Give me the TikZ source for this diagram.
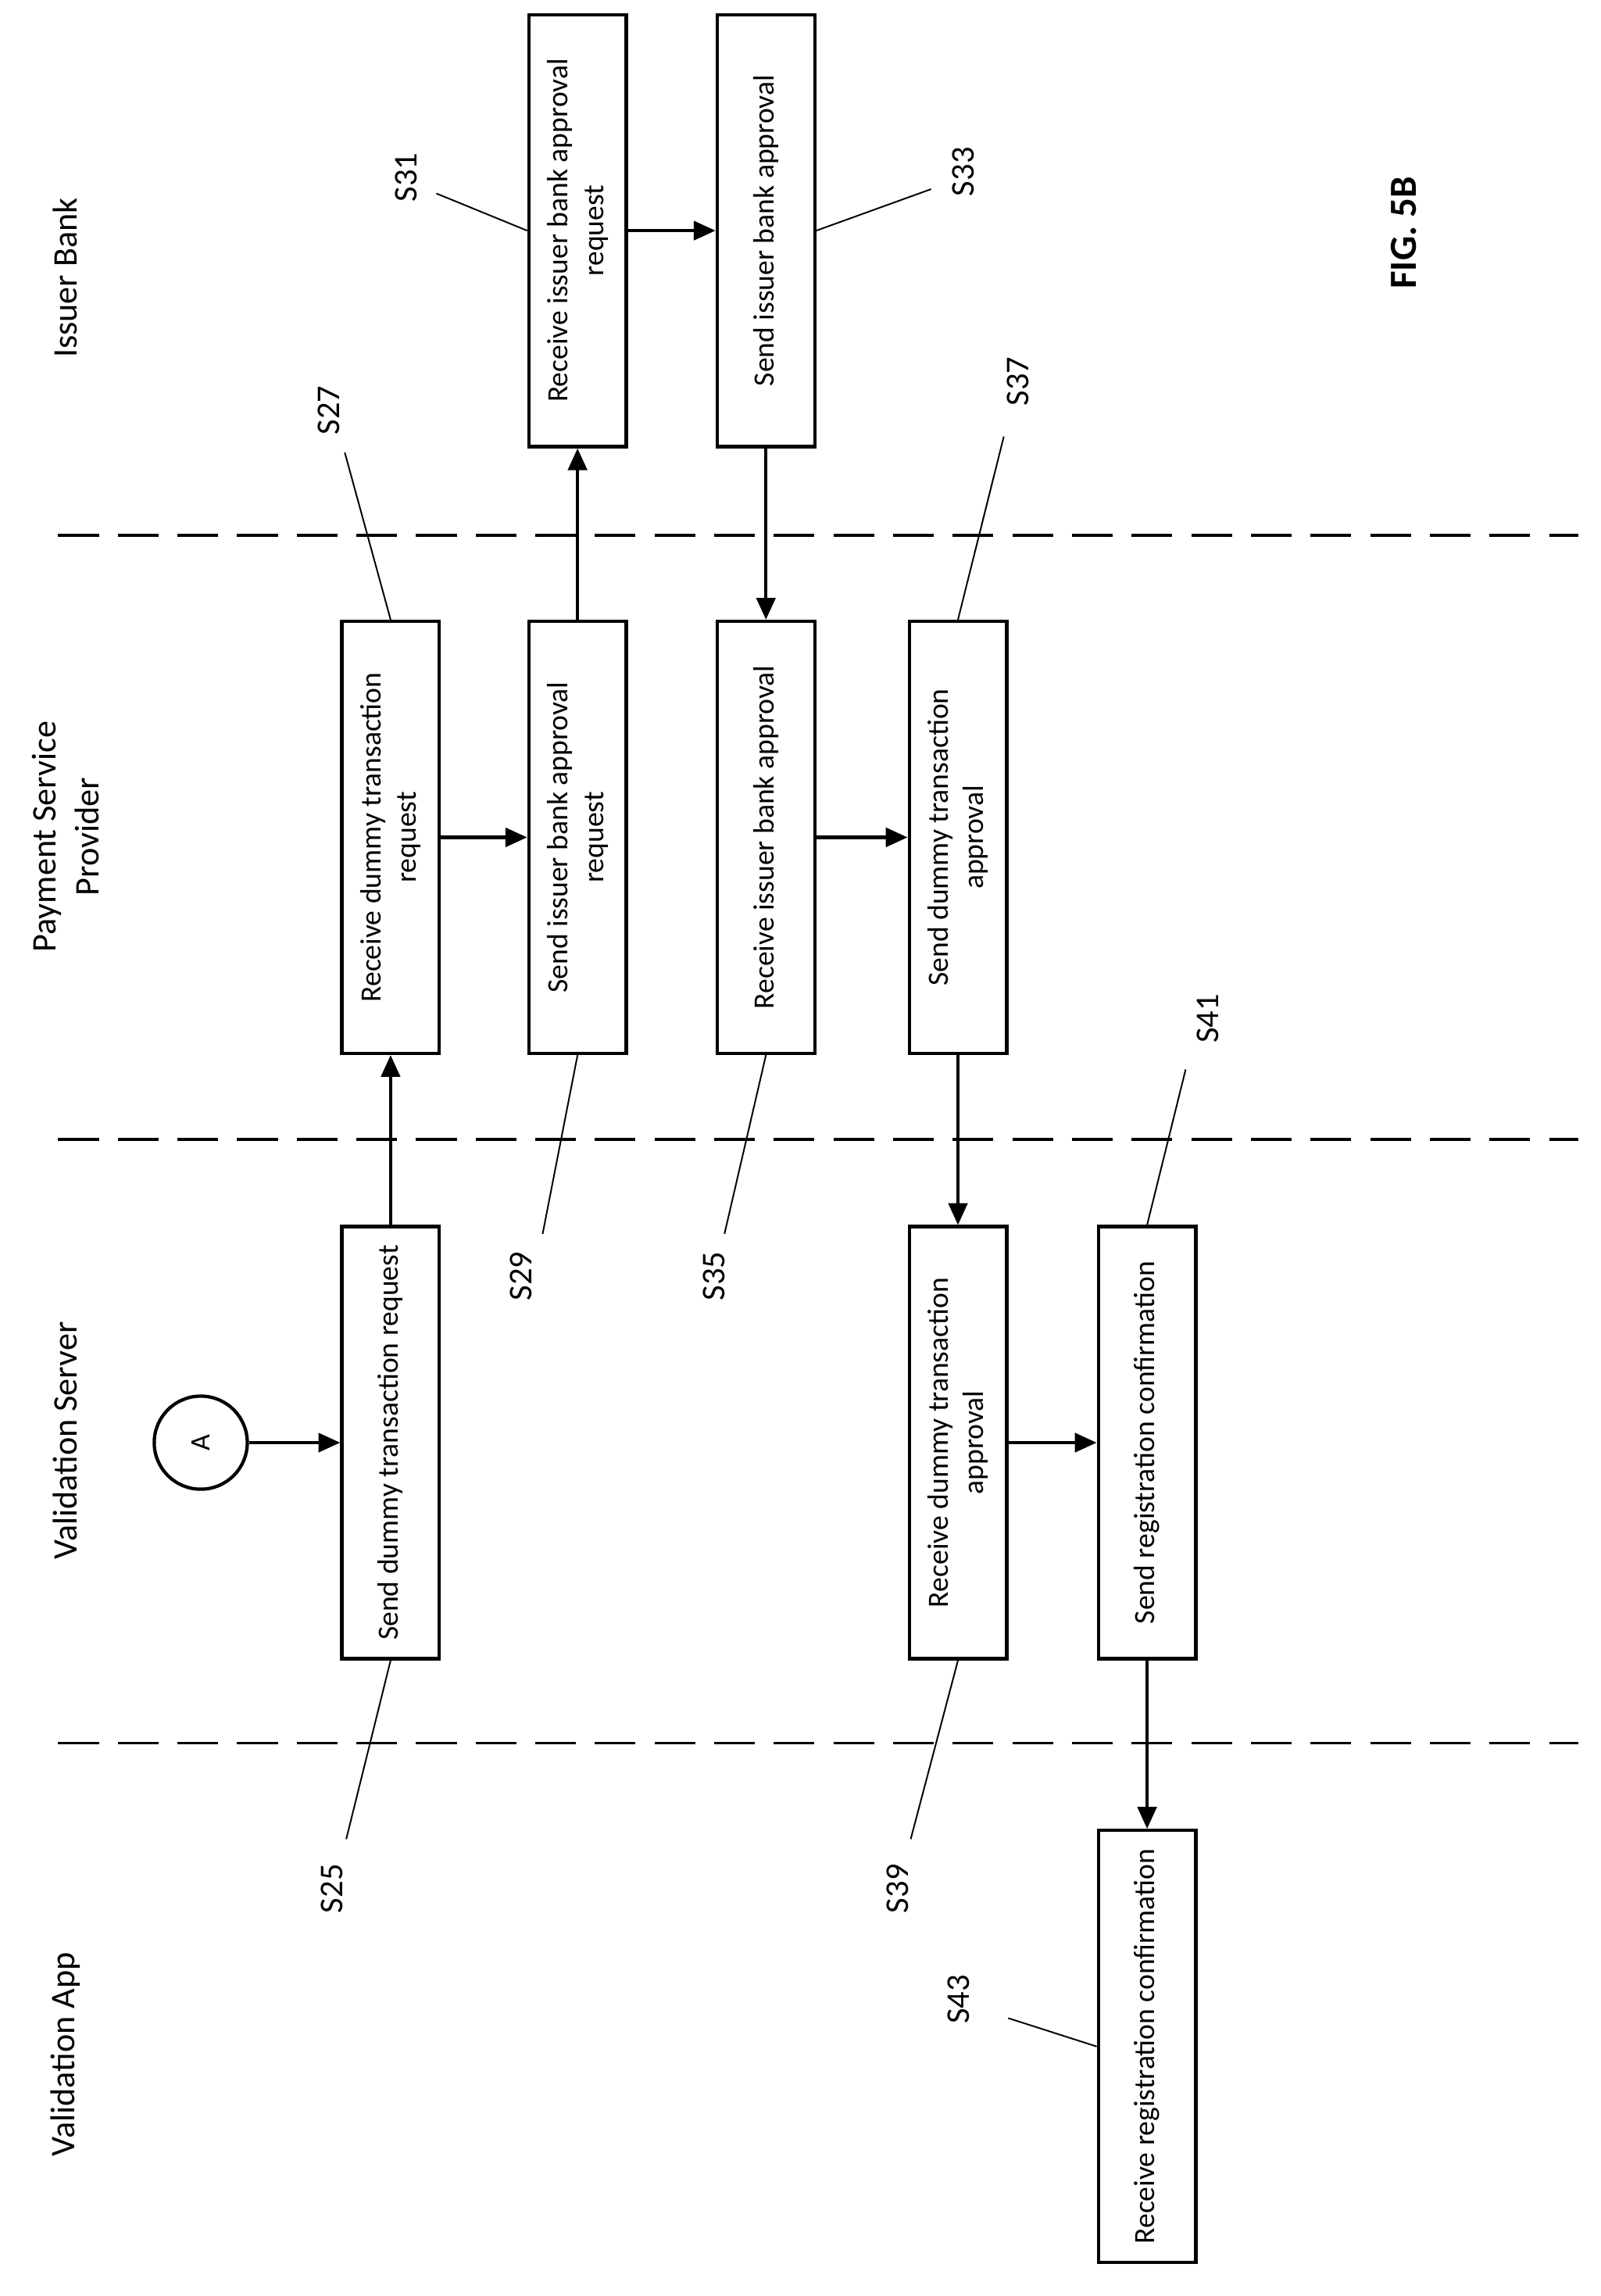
\documentclass[tikz,border=0pt]{standalone}
\usepackage{fontspec}
\setmainfont{Carlito}
\usetikzlibrary{arrows.meta}
\begin{document}
\begin{tikzpicture}[x=0.02cm,y=-0.02cm]
        % Define styles
        \tikzset{
            action/.style={rectangle, draw, line width=1.3pt, rotate=90, minimum width=5.94cm, minimum height=1.34cm, align=center, inner sep=0pt, font=\fontsize{11.5}{14}\selectfont},
            lane/.style={rotate=90, align=center, font=\fontsize{13.5}{17}\selectfont},
            ref/.style={rotate=90, font=\fontsize{13}{15}\selectfont},
            lead/.style={line width=0.6pt},
            arrow/.style={-{Triangle[length=0.3cm,width=0.26cm]}, line width=1.3pt},
            sep/.style={line width=1.2pt, dash pattern=on 0.56cm off 0.26cm}
        }
        \useasboundingbox (0,0) rectangle (1100,1578);

        % Lanes
        \node[lane] (lane_bank) at (45,191) {Issuer Bank};
        \node[lane] (lane_psp) at (45,575) {Payment Service\\Provider};
        \node[lane] (lane_server) at (45,990) {Validation Server};
        \node[lane] (lane_app) at (45,1412) {Validation App};
        \coordinate (sep_1a) at (40,368);  \coordinate (sep_1b) at (1085,368);
        \coordinate (sep_2a) at (40,783);  \coordinate (sep_2b) at (1085,783);
        \coordinate (sep_3a) at (40,1198); \coordinate (sep_3b) at (1085,1198);
        \draw[sep] (sep_1a) -- (sep_1b);
        \draw[sep] (sep_2a) -- (sep_2b);
        \draw[sep] (sep_3a) -- (sep_3b);

        % Steps
        \node[circle, draw, line width=1.3pt, minimum size=1.28cm, rotate=90, font=\fontsize{11}{13}\selectfont] (conn_a) at (138,991.5) {A};
        \node[action] (step_25) at (268.5,991.5) {Send dummy transaction request};
        \node[action] (step_27) at (268.5,575.5) {Receive dummy transaction\\request};
        \node[action] (step_29) at (397,575.5) {Send issuer bank approval\\request};
        \node[action] (step_31) at (397,158.5) {Receive issuer bank approval\\request};
        \node[action] (step_33) at (526.5,158.5) {Send issuer bank approval};
        \node[action] (step_35) at (526.5,575.5) {Receive issuer bank approval};
        \node[action] (step_37) at (658.5,575.5) {Send dummy transaction\\approval};
        \node[action] (step_39) at (658.5,991.5) {Receive dummy transaction\\approval};
        \node[action] (step_41) at (788.5,991.5) {Send registration confirmation};
        \node[action] (step_43) at (788.5,1406.5) {Receive registration confirmation};

        % Arrows
        \draw[arrow] (conn_a) -- (step_25.north);
        \draw[arrow] (step_25.east) -- (step_27.west);
        \draw[arrow] (step_27.south) -- (step_29.north);
        \draw[arrow] (step_29.east) -- (step_31.west);
        \draw[arrow] (step_31.south) -- (step_33.north);
        \draw[arrow] (step_33.west) -- (step_35.east);
        \draw[arrow] (step_35.south) -- (step_37.north);
        \draw[arrow] (step_37.west) -- (step_39.east);
        \draw[arrow] (step_39.south) -- (step_41.north);
        \draw[arrow] (step_41.west) -- (step_43.east);

        % Reference labels
        \node[ref] (ref_25) at (228,1298) {S25};
        \node[ref] (ref_27) at (226,282) {S27};
        \node[ref] (ref_29) at (358,877) {S29};
        \node[ref] (ref_31) at (279,122) {S31};
        \node[ref] (ref_33) at (662,118) {S33};
        \node[ref] (ref_35) at (491,877) {S35};
        \node[ref] (ref_37) at (700,262) {S37};
        \node[ref] (ref_39) at (617,1298) {S39};
        \node[ref] (ref_41) at (830,700) {S41};
        \node[ref] (ref_43) at (659,1374) {S43};
        \coordinate (tip_25) at (238,1264);
        \coordinate (tip_27) at (237,311);
        \coordinate (tip_29) at (373,848);
        \coordinate (tip_31) at (300,133);
        \coordinate (tip_33) at (640,130);
        \coordinate (tip_35) at (498,848);
        \coordinate (tip_37) at (690,300);
        \coordinate (tip_39) at (626,1264);
        \coordinate (tip_41) at (815,735);
        \coordinate (tip_43) at (693,1387);
        \draw[lead] (tip_25) -- (step_25.west);
        \draw[lead] (tip_27) -- (step_27.east);
        \draw[lead] (tip_29) -- (step_29.west);
        \draw[lead] (tip_31) -- (step_31.north);
        \draw[lead] (tip_33) -- (step_33.south);
        \draw[lead] (tip_35) -- (step_35.west);
        \draw[lead] (tip_37) -- (step_37.east);
        \draw[lead] (tip_39) -- (step_39.west);
        \draw[lead] (tip_41) -- (step_41.east);
        \draw[lead] (tip_43) -- (step_43.north);

        % Figure label
        \node[rotate=90, font=\bfseries\fontsize{15}{18}\selectfont] (fig_label) at (965,160) {FIG. 5B};
    \end{tikzpicture}
\end{document}
